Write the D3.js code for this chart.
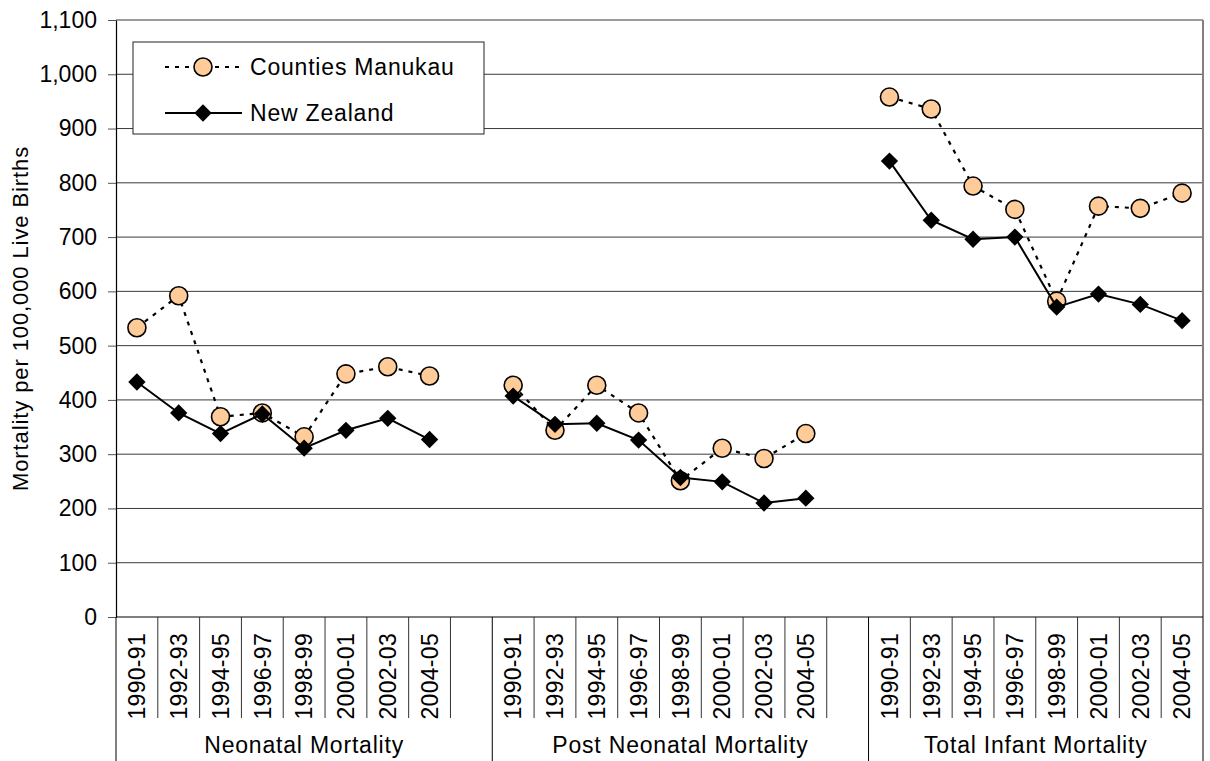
<!DOCTYPE html>
<html>
<head>
<meta charset="utf-8">
<script src="https://cdn.jsdelivr.net/npm/d3@7"></script>
<style>
  body { margin: 0; background: #fff; }
  svg { display: block; font-family: Arial, 'Liberation Sans', sans-serif; }
  text { fill: #000; }
</style>
</head>
<body>
<div class="chart"></div>
<script>
// periods and groups along the x axis
const periods = ['1990-91', '1992-93', '1994-95', '1996-97', '1998-99', '2000-01', '2002-03', '2004-05'];
const groups = ['Neonatal Mortality', 'Post Neonatal Mortality', 'Total Infant Mortality'];

// Counties Manukau, per 100,000 live births
const cmNeonatal = [533, 592, 369, 376, 332, 448, 461, 444];
const cmPostNeonatal = [427, 344, 427, 376, 251, 311, 292, 338];
const cmTotal = [958, 936, 794, 751, 582, 757, 753, 781];

// New Zealand
const nzNeonatal = [433, 376, 338, 374, 311, 344, 366, 327];
const nzPostNeonatal = [407, 355, 357, 326, 257, 249, 210, 219];
const nzTotal = [840, 731, 696, 700, 571, 595, 576, 546];

const yTicks = [0, 100, 200, 300, 400, 500, 600, 700, 800, 900, 1000, 1100];

const cmSeries = [cmNeonatal, cmPostNeonatal, cmTotal];
const nzSeries = [nzNeonatal, nzPostNeonatal, nzTotal];

const width = 1210, height = 761;
const plot = {left: 116, right: 1203, top: 20, bottom: 617};

// one slot per period, plus an empty slot between groups
let slots = [];
groups.forEach(function(g, gi){
	periods.forEach(function(p){ slots.push(g + '|' + p); });
	if (gi < groups.length - 1) slots.push(g + '|gap');
});

let xScale = d3.scaleBand()
	.domain(slots)
	.range([plot.left, plot.right])
	.padding(0);

let yScale = d3.scaleLinear()
	.domain([0, 1100])
	.range([plot.bottom, plot.top]);

let svg = d3.select('.chart').append('svg')
	.attr('width', width)
	.attr('height', height);

// gridlines
svg.append('g')
	.selectAll('line')
	.data(yTicks.filter(function(d){ return d > 0; }))
	.enter().append('line')
	.attr('x1', plot.left).attr('x2', plot.right)
	.attr('y1', function(d){ return yScale(d); })
	.attr('y2', function(d){ return yScale(d); })
	.attr('stroke', '#3a3a3a')
	.attr('stroke-width', 1);

// right border of plot area
svg.append('line')
	.attr('x1', plot.right).attr('x2', plot.right)
	.attr('y1', plot.top).attr('y2', plot.bottom)
	.attr('stroke', '#808080')
	.attr('stroke-width', 2);

// y axis
let yAxis = d3.axisLeft(yScale)
	.tickValues(yTicks)
	.tickSize(8)
	.tickSizeOuter(0)
	.tickPadding(11)
	.tickFormat(d3.format(','));

let yG = svg.append('g')
	.attr('transform', 'translate(' + plot.left + ',0)')
	.call(yAxis);
yG.select('.domain').attr('stroke', '#000').attr('stroke-width', 1.2);
yG.selectAll('.tick line').attr('stroke', '#555');
yG.selectAll('text')
	.style('font-size', '23px')
	.style('font-family', "Arial, 'Liberation Sans', sans-serif");

svg.append('text')
	.attr('transform', 'translate(28,' + ((plot.top + plot.bottom) / 2) + ') rotate(-90)')
	.attr('text-anchor', 'middle')
	.style('font-size', '22px')
	.style('letter-spacing', '0.9px')
	.text('Mortality per 100,000 Live Births');

// x axis: baseline, slot dividers and group dividers
let xAxisG = svg.append('g').attr('class', 'x axis');
xAxisG.append('line')
	.attr('x1', plot.left).attr('x2', plot.right)
	.attr('y1', plot.bottom).attr('y2', plot.bottom)
	.attr('stroke', '#000').attr('stroke-width', 1.2);

let boundaries = slots.map(function(s, i){
	return {x: xScale(s), group: i === 0 || s.split('|')[1] === '1990-91'};
});
boundaries.push({x: plot.right, group: true});

xAxisG.selectAll('.divider')
	.data(boundaries)
	.enter().append('line')
	.attr('class', 'divider')
	.attr('x1', function(d){ return d.x; })
	.attr('x2', function(d){ return d.x; })
	.attr('y1', plot.bottom)
	.attr('y2', function(d){ return d.group ? height : 718; })
	.attr('stroke', function(d){ return d.group ? '#000' : '#333'; })
	.attr('stroke-width', 1);

xAxisG.selectAll('.period')
	.data(slots.filter(function(s){ return s.split('|')[1] !== 'gap'; }))
	.enter().append('text')
	.attr('class', 'period')
	.attr('transform', function(s){
		return 'translate(' + (xScale(s) + xScale.bandwidth() / 2) + ',633) rotate(-90)';
	})
	.attr('text-anchor', 'end')
	.attr('dy', '0.36em')
	.style('font-size', '23px')
	.style('letter-spacing', '0.3px')
	.text(function(s){ return s.split('|')[1]; });

xAxisG.selectAll('.group')
	.data(groups)
	.enter().append('text')
	.attr('class', 'group')
	.attr('x', function(g){
		let x0 = xScale(g + '|1990-91');
		let x1 = xScale(g + '|2004-05') + xScale.bandwidth();
		let last = groups.indexOf(g) === groups.length - 1;
		return last ? (x0 + plot.right) / 2 : (x0 + x1 + xScale.bandwidth()) / 2;
	})
	.attr('y', 753)
	.attr('text-anchor', 'middle')
	.style('font-size', '23px')
	.style('letter-spacing', '0.8px')
	.text(function(g){ return g; });

// series
function cx(g, i){ return xScale(groups[g] + '|' + periods[i]) + xScale.bandwidth() / 2; }

let line = d3.line()
	.x(function(d){ return d.x; })
	.y(function(d){ return yScale(d.v); });

function points(series){
	return series.map(function(vals, g){
		return vals.map(function(v, i){ return {x: cx(g, i), v: v}; });
	});
}

let cmPts = points(cmSeries);
let nzPts = points(nzSeries);

svg.append('g').selectAll('path')
	.data(cmPts)
	.enter().append('path')
	.attr('d', line)
	.attr('fill', 'none')
	.attr('stroke', '#000')
	.attr('stroke-width', 2.2)
	.attr('stroke-dasharray', '4,6');

svg.append('g').selectAll('circle')
	.data(cmPts.flat())
	.enter().append('circle')
	.attr('cx', function(d){ return d.x; })
	.attr('cy', function(d){ return yScale(d.v); })
	.attr('r', 9)
	.attr('fill', '#FFCC99')
	.attr('stroke', '#000')
	.attr('stroke-width', 1.6);

svg.append('g').selectAll('path')
	.data(nzPts)
	.enter().append('path')
	.attr('d', line)
	.attr('fill', 'none')
	.attr('stroke', '#000')
	.attr('stroke-width', 2);

let diamond = d3.symbol().type(d3.symbolSquare).size(150);

svg.append('g').selectAll('path')
	.data(nzPts.flat())
	.enter().append('path')
	.attr('d', diamond)
	.attr('transform', function(d){ return 'translate(' + d.x + ',' + yScale(d.v) + ') rotate(45)'; })
	.attr('fill', '#000');

// legend
let legend = svg.append('g');
legend.append('rect')
	.attr('x', 133).attr('y', 42)
	.attr('width', 351).attr('height', 92)
	.attr('fill', '#fff')
	.attr('stroke', '#222')
	.attr('stroke-width', 1);

let legendItems = [
	{name: 'Counties Manukau', y: 67, dashed: true},
	{name: 'New Zealand', y: 113, dashed: false}
];

let li = legend.selectAll('.item')
	.data(legendItems)
	.enter().append('g')
	.attr('transform', function(d){ return 'translate(0,' + d.y + ')'; });

li.append('line')
	.attr('x1', 165).attr('x2', 242)
	.attr('stroke', '#000')
	.attr('stroke-width', function(d){ return d.dashed ? 2.2 : 2; })
	.attr('stroke-dasharray', function(d){ return d.dashed ? '4,6' : null; });

li.each(function(d){
	let g = d3.select(this);
	if (d.dashed) {
		g.append('circle').attr('cx', 203).attr('r', 9)
			.attr('fill', '#FFCC99').attr('stroke', '#000').attr('stroke-width', 1.6);
	} else {
		g.append('path').attr('d', diamond)
			.attr('transform', 'translate(203,0) rotate(45)')
			.attr('fill', '#000');
	}
});

li.append('text')
	.attr('x', 250)
	.attr('dy', '0.36em')
	.style('font-size', '23px')
	.style('letter-spacing', '0.8px')
	.text(function(d){ return d.name; });
</script>
</body>
</html>
